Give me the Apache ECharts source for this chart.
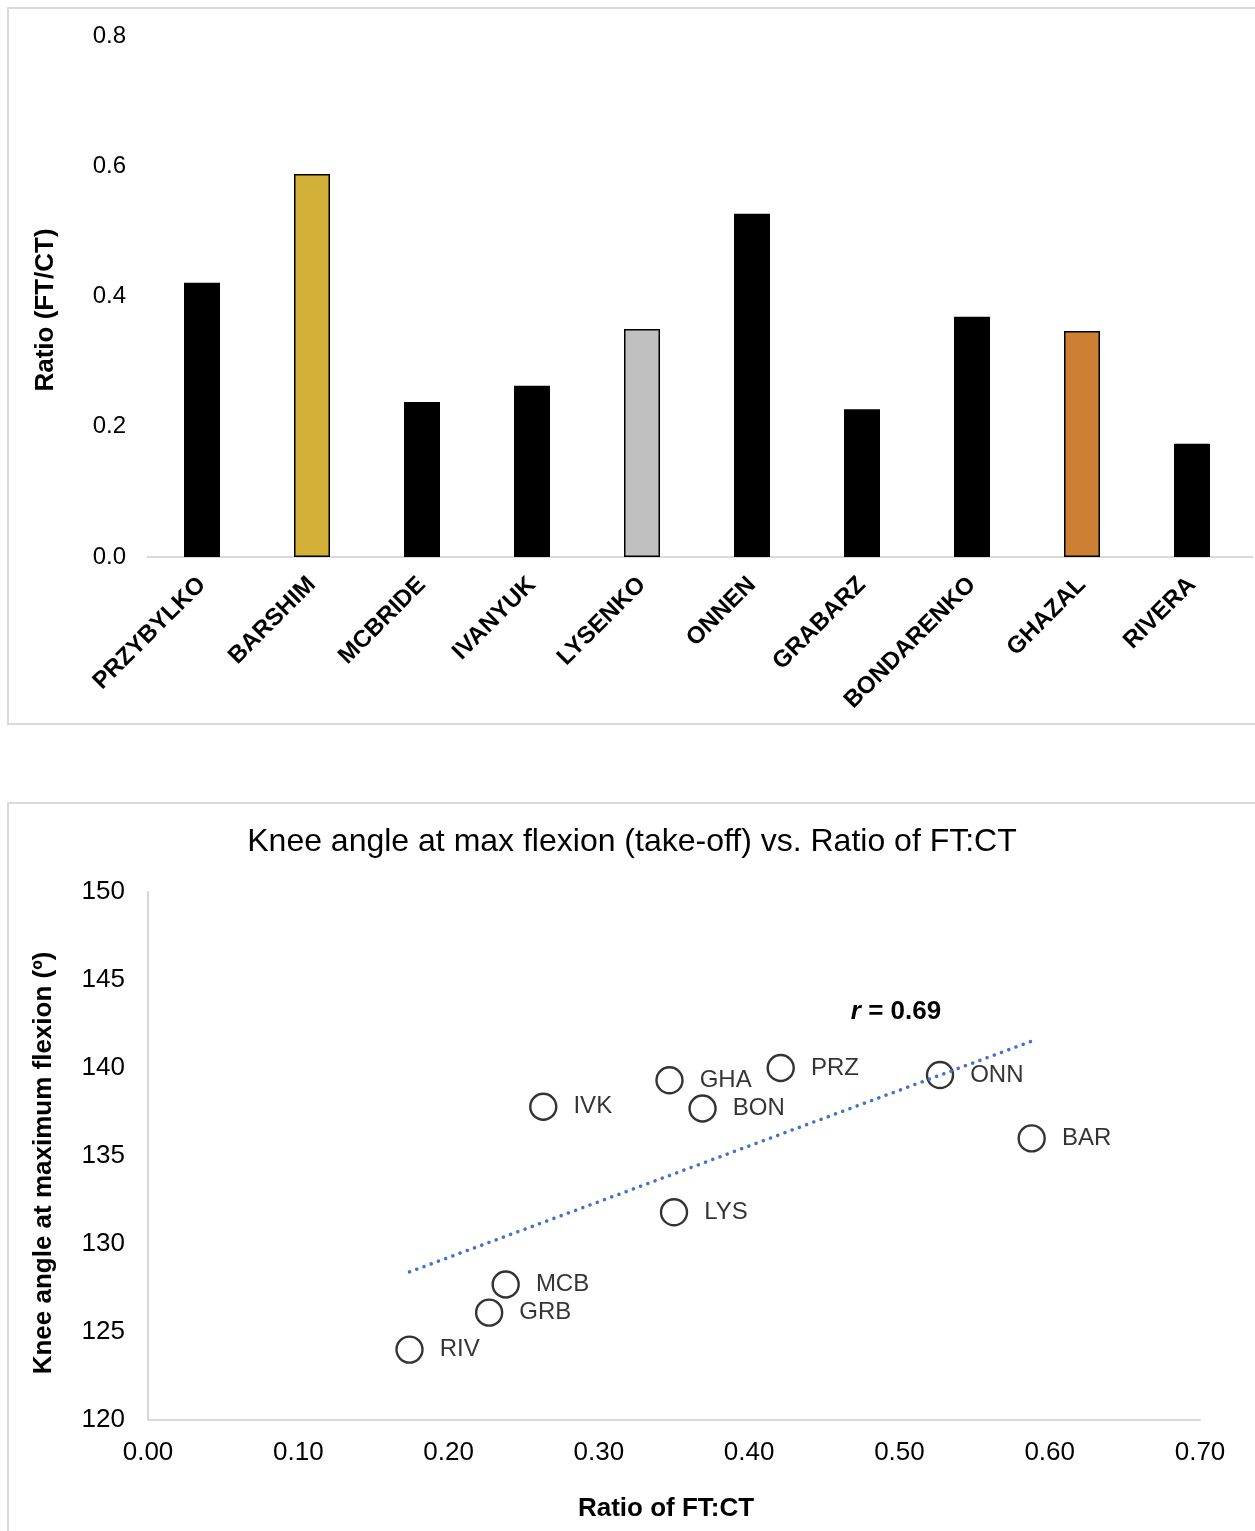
<!DOCTYPE html>
<html>
<head>
<meta charset="utf-8">
<script src="https://cdn.jsdelivr.net/npm/echarts@6/dist/echarts.min.js"></script>
<style>
  html, body { margin: 0; padding: 0; background: #ffffff; }
  #chart { width: 1255px; height: 1531px; }
</style>
</head>
<body>
<div id="chart"></div>
<script>
// Athletes, their short codes and measured values
const athletes = ['PRZYBYLKO', 'BARSHIM', 'MCBRIDE', 'IVANYUK', 'LYSENKO', 'ONNEN', 'GRABARZ', 'BONDARENKO', 'GHAZAL', 'RIVERA'];
const codes = ['PRZ', 'BAR', 'MCB', 'IVK', 'LYS', 'ONN', 'GRB', 'BON', 'GHA', 'RIV'];
const ratioFTCT = [0.421, 0.588, 0.238, 0.263, 0.350, 0.527, 0.227, 0.369, 0.347, 0.174];
const kneeAngle = [140.0, 136.0, 127.7, 137.8, 131.8, 139.6, 126.1, 137.7, 139.3, 124.0];

// Axis ranges
const barAxis = { min: 0, max: 0.8, step: 0.2 };
const ratioAxis = { min: 0, max: 0.7, step: 0.1 };
const kneeAxis = { min: 120, max: 150, step: 5 };

// Medal highlight colours for the bar chart
const medalColour = { BARSHIM: '#D3B037', LYSENKO: '#C0C0C0', GHAZAL: '#CD8033' };

const FONT = '"Liberation Sans", Arial, Helvetica, sans-serif';

// Least-squares fit and Pearson r
const n = ratioFTCT.length;
const mx = ratioFTCT.reduce((s, v) => s + v, 0) / n;
const my = kneeAngle.reduce((s, v) => s + v, 0) / n;
let sxy = 0, sxx = 0, syy = 0;
for (let i = 0; i < n; i++) {
  const dx = ratioFTCT[i] - mx, dy = kneeAngle[i] - my;
  sxy += dx * dy; sxx += dx * dx; syy += dy * dy;
}
const slope = sxy / sxx;
const intercept = my - slope * mx;
const r = sxy / Math.sqrt(sxx * syy);
const xLo = Math.min(...ratioFTCT), xHi = Math.max(...ratioFTCT);
const trend = [[xLo, intercept + slope * xLo], [xHi, intercept + slope * xHi]];

const barData = athletes.map((name, i) => {
  const c = medalColour[name];
  return {
    value: ratioFTCT[i],
    itemStyle: c ? { color: c, borderColor: '#000', borderWidth: 1.5 } : { color: '#000' }
  };
});

const scatterData = codes.map((c, i) => ({ name: c, value: [ratioFTCT[i], kneeAngle[i]] }));

const chart = echarts.init(document.getElementById('chart'), null, { renderer: 'canvas' });

chart.setOption({
  animation: false,
  backgroundColor: '#ffffff',
  textStyle: { fontFamily: FONT },
  grid: [
    { left: 147, top: 36, width: 1100, height: 521 },
    { left: 148, top: 892, width: 1052, height: 528 }
  ],
  xAxis: [
    {
      type: 'category', gridIndex: 0, data: athletes,
      axisLine: { show: false },
      axisTick: { show: false },
      axisLabel: { rotate: 45, margin: 24, interval: 0, color: '#000', fontSize: 24, fontWeight: 'bold', fontFamily: FONT }
    },
    {
      type: 'value', gridIndex: 1, min: ratioAxis.min, max: ratioAxis.max, interval: ratioAxis.step,
      axisLine: { show: true, lineStyle: { color: '#d9d9d9', width: 2 } },
      axisTick: { show: false },
      splitLine: { show: false },
      axisLabel: { margin: 20, color: '#000', fontSize: 26, fontFamily: FONT, formatter: v => v.toFixed(2) }
    }
  ],
  yAxis: [
    {
      type: 'value', gridIndex: 0, min: barAxis.min, max: barAxis.max, interval: barAxis.step,
      axisLine: { show: false }, axisTick: { show: false }, splitLine: { show: false },
      axisLabel: { margin: 21, color: '#000', fontSize: 24, fontFamily: FONT, formatter: v => v.toFixed(1) }
    },
    {
      type: 'value', gridIndex: 1, min: kneeAxis.min, max: kneeAxis.max, interval: kneeAxis.step,
      axisLine: { show: true, lineStyle: { color: '#d9d9d9', width: 2 } },
      axisTick: { show: false }, splitLine: { show: false },
      axisLabel: { margin: 23, color: '#000', fontSize: 26, fontFamily: FONT }
    }
  ],
  series: [
    {
      type: 'bar', xAxisIndex: 0, yAxisIndex: 0, data: barData, barWidth: 36, z: 3
    },
    {
      type: 'scatter', xAxisIndex: 1, yAxisIndex: 1, data: scatterData,
      symbol: 'circle', symbolSize: 26, z: 2,
      itemStyle: { color: 'rgba(255,255,255,0)', borderColor: '#000', borderWidth: 2.4 },
      label: { show: true, position: 'right', distance: 16, formatter: '{b}', color: '#000', fontSize: 24, fontFamily: FONT }
    },
    {
      type: 'line', xAxisIndex: 1, yAxisIndex: 1, data: trend, symbol: 'none', z: 3, silent: true,
      lineStyle: { color: '#4472C4', width: 3.5, type: [0.1, 7.6], cap: 'round' }
    }
  ],
  graphic: [
    { type: 'rect', silent: true, z: -1, shape: { x: 8, y: 8, width: 1300, height: 716 },
      style: { fill: 'none', stroke: '#d9d9d9', lineWidth: 2 } },
    { type: 'rect', silent: true, z: -1, shape: { x: 8, y: 803, width: 1300, height: 800 },
      style: { fill: 'none', stroke: '#d9d9d9', lineWidth: 2 } },
    // baseline of the bar chart, running to the right edge of its panel
    { type: 'line', silent: true, z: 1, shape: { x1: 147, y1: 557, x2: 1253, y2: 557 },
      style: { stroke: '#d9d9d9', lineWidth: 2 } },
    { type: 'text', x: 46, y: 310, rotation: Math.PI / 2,
      style: { text: 'Ratio (FT/CT)', font: 'bold 26px ' + FONT, fill: '#000', textAlign: 'center', textVerticalAlign: 'middle' } },
    { type: 'text', x: 632, y: 842,
      style: { text: 'Knee angle at max flexion (take-off) vs. Ratio of FT:CT', font: '32px ' + FONT, fill: '#000', textAlign: 'center', textVerticalAlign: 'middle' } },
    { type: 'text', x: 44, y: 1163, rotation: Math.PI / 2,
      style: { text: 'Knee angle at maximum flexion (º)', font: 'bold 26px ' + FONT, fill: '#000', textAlign: 'center', textVerticalAlign: 'middle' } },
    { type: 'text', x: 666, y: 1509,
      style: { text: 'Ratio of FT:CT', font: 'bold 26px ' + FONT, fill: '#000', textAlign: 'center', textVerticalAlign: 'middle' } },
    { type: 'text', x: 896, y: 1012,
      style: {
        text: '{i|r} = ' + r.toFixed(2),
        font: 'bold 26px ' + FONT, fill: '#000', textAlign: 'center', textVerticalAlign: 'middle',
        rich: { i: { fontStyle: 'italic', fontWeight: 'bold', fontSize: 26, fontFamily: FONT, fill: '#000' } }
      } }
  ]
});
</script>
</body>
</html>
